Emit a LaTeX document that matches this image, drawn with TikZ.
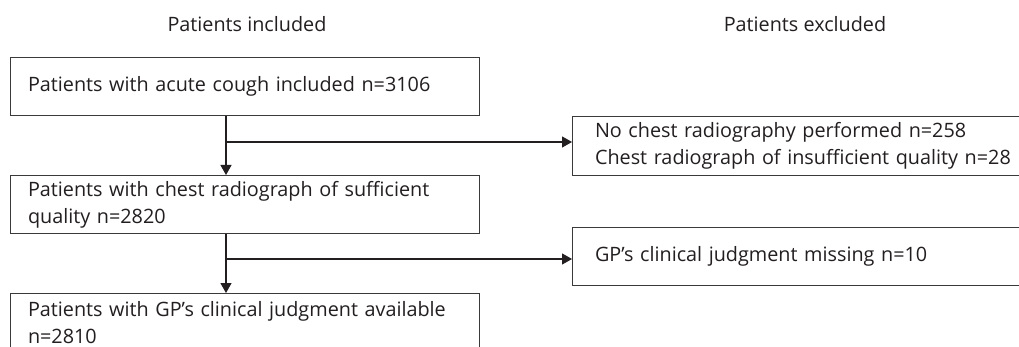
\documentclass[tikz,border=0pt]{standalone}
\usepackage{fontspec}
\setmainfont{Open Sans}
\usetikzlibrary{arrows.meta}
\definecolor{ink}{HTML}{231F20}
\definecolor{frame}{HTML}{3A3A3A}
\begin{document}
\begin{tikzpicture}[x=1pt,y=-1pt,
  every node/.style={text=ink, font=\fontsize{19.8}{27}\selectfont},
  leftbox/.style={draw=frame, line width=1pt, anchor=north west, align=left,
    minimum width=469pt, minimum height=58pt, text width=434pt, inner xsep=17.5pt, inner ysep=2pt},
  rightbox/.style={draw=frame, line width=1pt, anchor=north west, align=left,
    minimum width=480pt, minimum height=58pt, text width=435pt, inner xsep=22.5pt, inner ysep=2pt},
  title/.style={anchor=base},
  flow/.style={draw=ink, line width=1.2pt, -{Triangle[length=10pt,width=11pt]}}
]
\useasboundingbox (0,0) rectangle (1019,347);
\clip (0,0) rectangle (1019,347);
\fill[white] (0,0) rectangle (1019,347);

\node[title] (tin) at (247,32) {Patients included};
\node[title] (tex) at (805,32) {Patients excluded};

\node[leftbox] (b1) at (10,57) {Patients with acute cough included n=3106};
\node[leftbox] (b2) at (10,175) {Patients with chest radiograph of sufficient\\quality n=2820};
\node[leftbox] (b3) at (10,293) {Patients with GP’s clinical judgment available\\n=2810};

\node[rightbox, minimum height=59pt] (r1) at (572,116) {No chest radiography performed n=258\\Chest radiograph of insufficient quality n=28};
\node[rightbox] (r2) at (572,227) {GP’s clinical judgment missing n=10};

\coordinate (c1) at (226,142);
\coordinate (c2) at (226,259);

\draw[flow] (b1.south -| c1) -- (b2.north -| c1);
\draw[flow] (c1) -- (c1 -| r1.west);
\draw[flow] (b2.south -| c2) -- (b3.north -| c2);
\draw[flow] (c2) -- (c2 -| r2.west);
\end{tikzpicture}
\end{document}
